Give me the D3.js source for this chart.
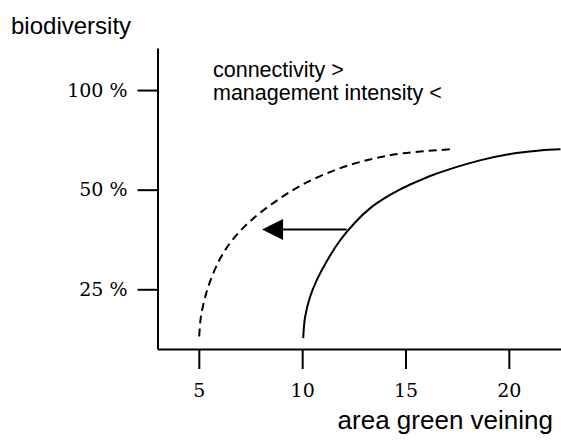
<!DOCTYPE html>
<html>
<head>
<meta charset="utf-8">
<script src="https://cdn.jsdelivr.net/npm/d3@7"></script>
<style>
  html, body { margin: 0; padding: 0; background: #fff; }
  svg { display: block; }
</style>
</head>
<body>
<script>
// ---- data ----
const yTickValues = [25, 50, 100];
const xTickValues = [5, 10, 15, 20];

// current situation (solid curve)
const areaSolid = [10.05, 10.14, 10.38, 10.70, 11.19, 11.83, 12.56, 13.28, 14.01, 14.74, 15.46, 16.19, 17.15, 18.60, 20.20, 21.51, 22.50];
const bioSolid  = [17.8, 20.6, 23.7, 26.6, 30.4, 35.1, 39.8, 43.9, 47.2, 50.1, 52.6, 55.0, 57.7, 61.3, 64.3, 65.7, 66.2];

// higher connectivity / lower management intensity (dashed curve)
const areaDashed = [5.02, 5.08, 5.19, 5.46, 6.00, 6.62, 7.55, 8.85, 10.02, 11.65, 13.28, 14.89, 17.15];
const bioDashed  = [18.0, 20.2, 22.1, 25.5, 30.7, 35.2, 40.5, 46.7, 51.8, 57.5, 61.7, 64.4, 66.2];

// shift arrow
const arrowArea = [12.15, 8.06];
const arrowBio  = [37.9, 37.9];

const annotationLines = ["connectivity >", "management intensity <"];

// ---- drawing ----
const W = 561, H = 445;
const svg = d3.select("body").append("svg").attr("width", W).attr("height", H);

const x = d3.scaleLinear().domain([3, 22.5]).range([157.5, 560.5]);
const y = d3.scaleLog().base(2).domain([16.5, 134]).range([349, 48]);

const sans = "'Liberation Sans', Arial, Helvetica, sans-serif";
const serif = "'DejaVu Serif', 'Liberation Serif', serif";

// y axis
const yAxis = d3.axisLeft(y).tickValues(yTickValues).tickSize(20).tickSizeOuter(0)
  .tickPadding(10).tickFormat(d => d + " %");
const gy = svg.append("g").attr("transform", `translate(${x(3)},0)`).call(yAxis);
gy.select(".domain").attr("stroke", "#000").attr("stroke-width", 2);
gy.selectAll(".tick line").attr("stroke", "#000").attr("stroke-width", 2);
gy.selectAll(".tick text").attr("font-family", serif).attr("font-size", 19).attr("fill", "#000");

// x axis
const xAxis = d3.axisBottom(x).tickValues(xTickValues).tickSize(20).tickSizeOuter(0)
  .tickPadding(15).tickFormat(d => d);
const gx = svg.append("g").attr("transform", `translate(0,${y.range()[0]})`).call(xAxis);
gx.select(".domain").attr("stroke", "#000").attr("stroke-width", 2);
gx.selectAll(".tick line").attr("stroke", "#000").attr("stroke-width", 2);
gx.selectAll(".tick text").attr("font-family", serif).attr("font-size", 19).attr("fill", "#000");

// curves
const line = d3.line().x(d => x(d[0])).y(d => y(d[1])).curve(d3.curveCatmullRom.alpha(0.5));

svg.append("path")
  .datum(d3.zip(areaSolid, bioSolid))
  .attr("d", line)
  .attr("fill", "none").attr("stroke", "#000").attr("stroke-width", 2);

svg.append("path")
  .datum(d3.zip(areaDashed, bioDashed))
  .attr("d", line)
  .attr("fill", "none").attr("stroke", "#000").attr("stroke-width", 2)
  .attr("stroke-dasharray", "8,5");

// arrow
const ax0 = x(arrowArea[0]), ax1 = x(arrowArea[1]), ay = y(arrowBio[0]);
const headLen = 21, headHalf = 10.5;
svg.append("line")
  .attr("x1", ax0).attr("y1", ay).attr("x2", ax1 + headLen - 1).attr("y2", ay)
  .attr("stroke", "#000").attr("stroke-width", 1.8);
svg.append("path")
  .attr("d", `M${ax1},${ay}L${ax1 + headLen},${ay - headHalf}L${ax1 + headLen},${ay + headHalf}Z`)
  .attr("fill", "#000");

// titles
svg.append("text").attr("x", 11).attr("y", 34)
  .attr("font-family", sans).attr("font-size", 24).attr("fill", "#000")
  .text("biodiversity");

svg.append("text").attr("x", 553).attr("y", 429).attr("text-anchor", "end")
  .attr("font-family", sans).attr("font-size", 26).attr("fill", "#000")
  .text("area green veining");

const ann = svg.append("text").attr("font-family", sans).attr("font-size", 21.5).attr("fill", "#000");
annotationLines.forEach((t, i) => {
  ann.append("tspan").attr("x", 213).attr("y", 77 + i * 23).text(t);
});
</script>
</body>
</html>
